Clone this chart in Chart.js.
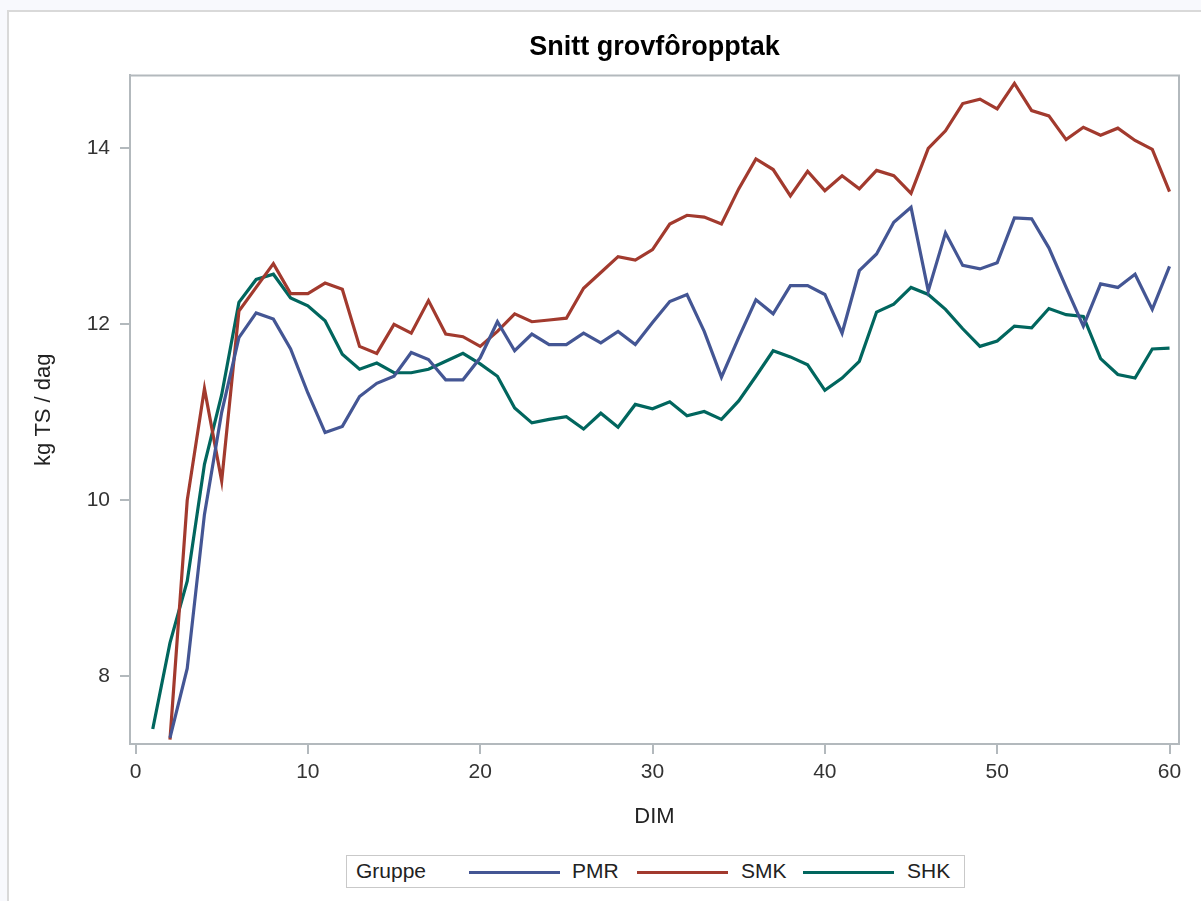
<!DOCTYPE html>
<html>
<head>
<meta charset="utf-8">
<script src="https://cdn.jsdelivr.net/npm/chart.js@4.4.1/dist/chart.umd.min.js"></script>
<style>
  html, body { margin: 0; padding: 0; background: #f8f9fd; width: 1201px; height: 901px; overflow: hidden; }
  #panel { position: absolute; left: 7px; top: 10px; width: 1300px; height: 1000px; background: #ffffff;
           border-left: 2px solid #d9d9d9; border-top: 2px solid #d9d9d9; }
  #wrap { position: absolute; left: 0; top: 0; width: 1201px; height: 901px; }
  #legend { position: absolute; left: 346px; top: 855px; width: 617px; height: 31px; border: 1px solid #c9c9c9;
            font-family: "Liberation Sans", Arial, sans-serif; font-size: 21px; color: #222; background: #fff; }
  #legend .t { position: absolute; top: 3px; white-space: nowrap; }
  #legend .l { position: absolute; top: 15px; height: 3px; width: 91px; }
</style>
</head>
<body>
<div id="panel"></div>
<div id="wrap"><canvas id="c" width="1201" height="901"></canvas></div>
<div id="legend"></div>
<script>
const dims = [1,2,3,4,5,6,7,8,9,10,11,12,13,14,15,16,17,18,19,20,21,22,23,24,25,26,27,28,29,30,
              31,32,33,34,35,36,37,38,39,40,41,42,43,44,45,46,47,48,49,50,51,52,53,54,55,56,57,58,59,60];
const pmr = [null,7.30,8.09,9.84,11.00,11.85,12.13,12.06,11.72,11.22,10.77,10.84,11.18,11.33,11.41,11.68,11.60,11.37,11.37,11.62,
             12.03,11.70,11.89,11.77,11.77,11.90,11.79,11.92,11.77,12.02,12.26,12.34,11.92,11.40,11.85,12.28,12.12,12.44,12.44,12.34,
             11.90,12.61,12.80,13.16,13.33,12.38,13.04,12.67,12.63,12.70,13.21,13.20,12.87,12.42,11.98,12.46,12.42,12.57,12.17,12.66];
const smk = [null,7.28,10.00,11.27,10.22,12.15,12.42,12.69,12.35,12.35,12.47,12.40,11.75,11.67,12.00,11.90,12.27,11.89,11.86,11.75,
             11.92,12.12,12.03,12.05,12.07,12.41,12.59,12.77,12.73,12.85,13.14,13.24,13.22,13.14,13.54,13.88,13.76,13.46,13.74,13.52,
             13.69,13.54,13.75,13.69,13.49,14.00,14.20,14.51,14.56,14.45,14.74,14.43,14.37,14.10,14.24,14.15,14.23,14.09,13.99,13.51];
const shk = [7.40,8.38,9.08,10.41,11.20,12.25,12.51,12.57,12.30,12.21,12.04,11.66,11.49,11.56,11.45,11.45,11.49,11.58,11.67,11.55,
             11.41,11.05,10.88,10.92,10.95,10.81,10.99,10.83,11.09,11.04,11.12,10.96,11.01,10.92,11.13,11.41,11.70,11.63,11.54,11.25,
             11.39,11.58,12.14,12.23,12.42,12.34,12.17,11.95,11.75,11.81,11.98,11.96,12.18,12.11,12.09,11.61,11.43,11.39,11.72,11.73];
const seriesNames = ['PMR', 'SMK', 'SHK'];
const seriesColors = ['#445694', '#A23A2E', '#01665E'];
const xTicks = [0, 10, 20, 30, 40, 50, 60];
const yTicks = [8, 10, 12, 14];
const titleText = 'Snitt grovfôropptak';
const xTitle = 'DIM';
const yTitle = 'kg TS / dag';
const legendTitle = 'Gruppe';

const FONT = '"Liberation Sans", Arial, sans-serif';
const AXIS = '#b3b9bd';
const seriesValues = [pmr, smk, shk];

const datasets = seriesNames.map((n, i) => ({
  label: n,
  data: dims.map((d, j) => ({ x: d, y: seriesValues[i][j] })),
  borderColor: seriesColors[i],
  backgroundColor: seriesColors[i],
  borderWidth: 3.2,
  pointRadius: 0,
  tension: 0,
  spanGaps: false,
  fill: false
}));

const frame = {
  id: 'frame',
  afterDatasetsDraw(chart) {
    const { ctx, chartArea: a } = chart;
    ctx.save();
    ctx.strokeStyle = AXIS;
    ctx.lineWidth = 2;
    ctx.beginPath();
    ctx.moveTo(a.left, a.top);
    ctx.lineTo(a.right, a.top);
    ctx.lineTo(a.right, a.bottom);
    ctx.stroke();
    ctx.restore();
  }
};

new Chart(document.getElementById('c'), {
  type: 'line',
  data: { datasets },
  plugins: [frame],
  options: {
    responsive: false,
    animation: false,
    devicePixelRatio: 1,
    layout: { padding: { left: 0, right: 22, top: 0, bottom: 71 } },
    plugins: {
      legend: { display: false },
      tooltip: { enabled: false },
      title: {
        display: true, text: titleText, color: '#000', fullSize: false,
        font: { family: FONT, size: 27, weight: 'bold', lineHeight: 1.2 },
        padding: { top: 31, bottom: 12 }
      }
    },
    scales: {
      x: {
        type: 'linear', position: 'bottom', min: -0.32, max: 60.55,
        afterBuildTicks: s => { s.ticks = xTicks.map(v => ({ value: v })); },
        afterFit: s => { s.height = 86; },
        ticks: { color: '#333', font: { family: FONT, size: 21 }, padding: 6, maxRotation: 0,
                 callback: v => String(v) },
        grid: { display: true, drawOnChartArea: false, drawTicks: true, tickLength: 10, color: AXIS, lineWidth: 2 },
        border: { display: true, color: AXIS, width: 2 },
        title: { display: true, text: xTitle, color: '#222', font: { family: FONT, size: 22 }, padding: { top: 0, bottom: 0 } }
      },
      y: {
        type: 'linear', position: 'left', min: 7.23, max: 14.83,
        afterBuildTicks: s => { s.ticks = yTicks.map(v => ({ value: v })); },
        afterFit: s => { s.width = 130; },
        ticks: { color: '#333', font: { family: FONT, size: 21 }, padding: 10,
                 callback: v => String(v) },
        grid: { display: true, drawOnChartArea: false, drawTicks: true, tickLength: 10, color: AXIS, lineWidth: 2 },
        border: { display: true, color: AXIS, width: 2 },
        title: { display: true, text: yTitle, color: '#222', font: { family: FONT, size: 22 }, padding: { top: 31, bottom: 0 } }
      }
    }
  }
});

// HTML legend
const lg = document.getElementById('legend');
const textPos = [225, 394, 560];
const linePos = [122, 290, 456];
const gt = document.createElement('span');
gt.className = 't'; gt.style.left = '9px'; gt.textContent = legendTitle; lg.appendChild(gt);
seriesNames.forEach((n, i) => {
  const l = document.createElement('span');
  l.className = 'l'; l.style.left = linePos[i] + 'px'; l.style.background = seriesColors[i];
  lg.appendChild(l);
  const t = document.createElement('span');
  t.className = 't'; t.style.left = textPos[i] + 'px'; t.textContent = n;
  lg.appendChild(t);
});
</script>
</body>
</html>
